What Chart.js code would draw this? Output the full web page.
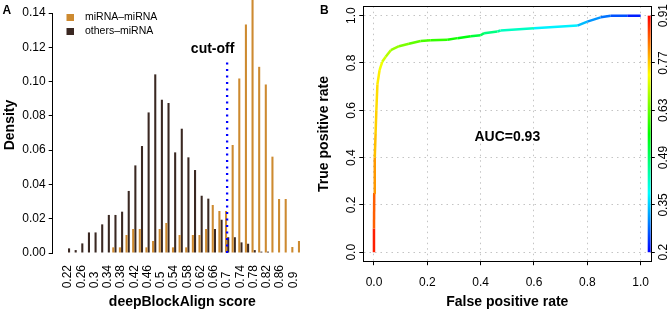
<!DOCTYPE html>
<html>
<head>
<meta charset="utf-8">
<script src="https://cdn.jsdelivr.net/npm/chart.js@4.4.1/dist/chart.umd.min.js"></script>
<style>
  body { margin: 0; background: #fff; width: 670px; height: 309px; overflow: hidden; position: relative; }
  #wrapA { position: absolute; left: 0; top: 0; width: 316px; height: 309px; }
  #wrapB { position: absolute; left: 316px; top: 0; width: 354px; height: 309px; }
</style>
</head>
<body>
<div id="wrapA"><canvas id="histA"></canvas></div>
<div id="wrapB"><canvas id="rocB"></canvas></div>
<script>
// panel A: score histogram (density per 0.02 bin)
var scoreBins = ['0.22','0.24','0.26','0.28','0.3','0.32','0.34','0.36','0.38','0.4','0.42','0.44',
                 '0.46','0.48','0.5','0.52','0.54','0.56','0.58','0.6','0.62','0.64','0.66','0.68',
                 '0.7','0.72','0.74','0.76','0.78','0.8','0.82','0.84','0.86','0.88','0.9','0.92'];
var miRNAmiRNA = [0, 0, 0, 0, 0, 0, 0, 0.0033, 0.0033, 0.0105, 0.014, 0.014,
                  0.0033, 0.007, 0.014, 0.0175, 0.0033, 0.0105, 0.0033, 0.0105, 0.0105, 0.014, 0.028, 0.0245,
                  0.0245, 0.063, 0.1018, 0.1333, 0.15, 0.1086, 0.0983, 0.0562, 0.0315, 0.0315, 0.0035, 0.007];
var othersMiRNA = [0.0027, 0.0017, 0.0056, 0.012, 0.012, 0.0167, 0.0222, 0.0222, 0.0241, 0.0362, 0.0511, 0.0624,
                   0.082, 0.1042, 0.0894, 0.0875, 0.0587, 0.0725, 0.0558, 0.0484, 0.0334, 0.0317, 0.014, 0.0194,
                   0.0092, 0.0092, 0.0062, 0.0054, 0.0017, 0.0008, 0.0008, 0, 0, 0, 0, 0];
var densityTicks = [0, 0.02, 0.04, 0.06, 0.08, 0.10, 0.12, 0.14];
var cutoffScore = 0.7;
var cutoffHeight = 0.112;

// panel B: ROC curve coloured by cutoff
var rocFpr = [0, 0, 0.001, 0.003, 0.006, 0.009, 0.013, 0.021, 0.031, 0.044, 0.063, 0.094, 0.131, 0.175, 0.213,
              0.275, 0.313, 0.363, 0.400, 0.413, 0.463, 0.475, 0.600, 0.763, 0.800, 0.850, 0.888, 0.950, 1.000];
var rocTpr = [0, 0.10, 0.25, 0.40, 0.50, 0.60, 0.71, 0.77, 0.805, 0.826, 0.854, 0.871, 0.881, 0.893, 0.896,
              0.898, 0.905, 0.913, 0.917, 0.926, 0.933, 0.937, 0.947, 0.958, 0.975, 0.993, 1.0, 1.0, 1.0];
var rocCutoff = [0.91, 0.87, 0.82, 0.785, 0.77, 0.76, 0.75, 0.74, 0.71, 0.69, 0.67, 0.65, 0.63, 0.61, 0.60,
                 0.58, 0.56, 0.53, 0.50, 0.48, 0.45, 0.44, 0.40, 0.34, 0.32, 0.29, 0.27, 0.24, 0.20];
var rateTicks = [0, 0.2, 0.4, 0.6, 0.8, 1.0];
var colorKeyLabels = ['0.2', '0.35', '0.49', '0.63', '0.77', '0.91'];
var aucText = 'AUC=0.93';

Chart.defaults.font.family = "'Liberation Sans', Arial, Helvetica, sans-serif";
Chart.defaults.color = '#000';

function barPoints(vals) {
  return scoreBins.map(function(s, i) { return {x: parseFloat(s), y: vals[i]}; });
}

// rev(rainbow(..., end = 4/6)): low cutoff blue, high cutoff red
function cutColor(c) {
  var lo = parseFloat(colorKeyLabels[0]);
  var hi = parseFloat(colorKeyLabels[colorKeyLabels.length - 1]);
  var f = Math.min(1, Math.max(0, (c - lo) / (hi - lo)));
  return 'hsl(' + Math.round((1 - f) * 240) + ',100%,50%)';
}

var histDecor = {
  id: 'histDecor',
  afterDraw: function(chart) {
    var ctx = chart.ctx, area = chart.chartArea;
    var x = chart.scales.x, y = chart.scales.y;
    ctx.save();
    ctx.fillStyle = '#000';
    ctx.font = "bold 12px 'Liberation Sans', Arial, sans-serif";
    ctx.textAlign = 'left';
    ctx.textBaseline = 'alphabetic';
    ctx.fillText('A', 2.5, 13.5);

    // y title
    ctx.save();
    ctx.translate(10, (area.top + area.bottom) / 2 - 8);
    ctx.rotate(-Math.PI / 2);
    ctx.font = "bold 14px 'Liberation Sans', Arial, sans-serif";
    ctx.textAlign = 'center';
    ctx.textBaseline = 'middle';
    ctx.fillText('Density', 0, 0);
    ctx.restore();

    // cut-off label
    ctx.font = "bold 14px 'Liberation Sans', Arial, sans-serif";
    ctx.textAlign = 'center';
    ctx.textBaseline = 'middle';
    ctx.fillText('cut-off', x.getPixelForValue(cutoffScore) - 14.5, y.getPixelForValue(0.119));

    // legend, top-left inside the plot
    ctx.font = "10.5px 'Liberation Sans', Arial, sans-serif";
    ctx.textAlign = 'left';
    chart.data.datasets.slice(0, 2).forEach(function(ds, i) {
      var cy = 17.5 + i * 14;
      ctx.fillStyle = ds.backgroundColor;
      ctx.fillRect(66.5, cy - 3.5, 7.5, 7);
      ctx.fillStyle = '#000';
      ctx.fillText(ds.label, 85, cy);
    });
    ctx.restore();
  }
};

new Chart(document.getElementById('histA'), {
  type: 'bar',
  data: {
    datasets: [
      { label: 'miRNA\u2013miRNA', data: barPoints(miRNAmiRNA), backgroundColor: '#CD8A30',
        categoryPercentage: 0.66, barPercentage: 0.95, clip: false, order: 1 },
      { label: 'others\u2013miRNA', data: barPoints(othersMiRNA), backgroundColor: '#3A2822',
        categoryPercentage: 0.66, barPercentage: 0.95, clip: false, order: 1 },
      { type: 'line', label: 'cut-off',
        data: [{x: cutoffScore, y: 0}, {x: cutoffScore, y: cutoffHeight}],
        borderColor: '#0000FF', borderWidth: 2.3, borderDash: [2, 4.5], pointRadius: 0, order: 0 }
    ]
  },
  options: {
    animation: false,
    responsive: true,
    maintainAspectRatio: false,
    layout: { padding: { top: 13, right: 4, left: 0, bottom: 0 } },
    plugins: { legend: { display: false }, tooltip: { enabled: false } },
    scales: {
      x: {
        type: 'linear', min: 0.174, max: 0.956, offset: false,
        afterBuildTicks: function(s) {
          s.ticks = scoreBins.filter(function(_, i) { return i % 2 === 0; })
                             .map(function(v) { return {value: parseFloat(v)}; });
        },
        ticks: {
          minRotation: 90, maxRotation: 90, autoSkip: false, padding: 4,
          font: { size: 12 }, color: '#000',
          callback: function(v) {
            var s = scoreBins[Math.round((v - 0.22) / 0.02)];
            return s.length < 4 ? s + '\u2007' : s;
          }
        },
        grid: { display: false },
        border: { display: false },
        title: { display: true, text: 'deepBlockAlign score', color: '#000',
                 font: { size: 14, weight: 'bold' }, padding: { top: 0, bottom: -2 } },
        afterFit: function(s) { s.height = 56; }
      },
      y: {
        min: 0, max: 0.14,
        afterBuildTicks: function(s) {
          s.ticks = densityTicks.map(function(v) { return {value: v}; });
        },
        ticks: { padding: 3, font: { size: 12 }, color: '#000',
                 callback: function(v) { return v.toFixed(2); } },
        grid: { drawOnChartArea: false, tickLength: 4, tickColor: '#000' },
        border: { color: '#000' },
        afterFit: function(s) { s.width = 52.7; }
      }
    }
  },
  plugins: [histDecor]
});

var rocDecor = {
  id: 'rocDecor',
  afterDatasetsDraw: function(chart) {
    var ctx = chart.ctx, area = chart.chartArea;
    var x = chart.scales.x, y = chart.scales.y;
    ctx.save();
    // colour key along the right edge
    var top = y.getPixelForValue(1), bottom = y.getPixelForValue(0);
    var g = ctx.createLinearGradient(0, top, 0, bottom);
    for (var i = 0; i <= 12; i++) {
      g.addColorStop(i / 12, 'hsl(' + Math.round(i / 12 * 240) + ',100%,50%)');
    }
    ctx.fillStyle = g;
    ctx.fillRect(area.right - 3.6, top, 3, bottom - top);

    ctx.fillStyle = '#000';
    ctx.font = "bold 14px 'Liberation Sans', Arial, sans-serif";
    ctx.textAlign = 'center';
    ctx.textBaseline = 'middle';
    ctx.fillText(aucText, x.getPixelForValue(0.5), y.getPixelForValue(0.485));

    ctx.font = "bold 12px 'Liberation Sans', Arial, sans-serif";
    ctx.textAlign = 'left';
    ctx.textBaseline = 'alphabetic';
    ctx.fillText('B', 4, 13.5);
    ctx.restore();
  }
};

function rateAxisTicks(s) {
  s.ticks = rateTicks.map(function(v) { return {value: v}; });
}

new Chart(document.getElementById('rocB'), {
  type: 'line',
  data: {
    datasets: [{
      label: 'ROC',
      data: rocFpr.map(function(f, i) { return {x: f, y: rocTpr[i]}; }),
      borderColor: '#00f',
      borderWidth: 2.5,
      borderJoinStyle: 'round',
      pointRadius: 0,
      tension: 0,
      segment: {
        borderColor: function(c) {
          return cutColor((rocCutoff[c.p0DataIndex] + rocCutoff[c.p1DataIndex]) / 2);
        }
      }
    }]
  },
  options: {
    animation: false,
    responsive: true,
    maintainAspectRatio: false,
    layout: { padding: { top: 4, right: 0, left: 0, bottom: 0 } },
    plugins: { legend: { display: false }, tooltip: { enabled: false } },
    scales: {
      x: {
        type: 'linear', position: 'bottom', min: -0.04, max: 1.04,
        afterBuildTicks: rateAxisTicks,
        ticks: { padding: 10, font: { size: 12 }, color: '#000',
                 callback: function(v) { return v.toFixed(1); } },
        grid: { color: '#C4C4C4', tickColor: '#000', tickLength: 3.5 },
        border: { color: '#000', dash: [1.5, 4] },
        title: { display: true, text: 'False positive rate', color: '#000',
                 font: { size: 14, weight: 'bold' }, padding: { top: 0, bottom: -2 } },
        afterFit: function(s) { s.height = 47.3; }
      },
      xTop: {
        type: 'linear', axis: 'x', position: 'top', min: -0.04, max: 1.04,
        ticks: { display: false },
        grid: { display: false },
        border: { color: '#000' },
        afterFit: function(s) { s.height = 0; }
      },
      y: {
        type: 'linear', position: 'left', min: -0.04, max: 1.04,
        afterBuildTicks: rateAxisTicks,
        ticks: { minRotation: 90, maxRotation: 90, crossAlign: 'center', padding: -1,
                 font: { size: 12 }, color: '#000',
                 callback: function(v) { return v.toFixed(1); } },
        grid: { color: '#C4C4C4', tickColor: '#000', tickLength: 4 },
        border: { color: '#000', dash: [1.5, 4] },
        title: { display: true, text: 'True positive rate', color: '#000',
                 font: { size: 14, weight: 'bold' }, padding: { top: 0, bottom: 0 } },
        afterFit: function(s) { s.width = 47.3; }
      },
      cutKey: {
        type: 'linear', axis: 'y', position: 'right', min: -0.04, max: 1.04,
        afterBuildTicks: rateAxisTicks,
        ticks: { minRotation: 90, maxRotation: 90, crossAlign: 'center', padding: -2.5,
                 font: { size: 12 }, color: '#000',
                 callback: function(v) { return colorKeyLabels[Math.round(v * 5)]; } },
        grid: { drawOnChartArea: false, tickColor: '#000', tickLength: 3.5 },
        border: { color: '#000' },
        afterFit: function(s) { s.width = 18.7; }
      }
    }
  },
  plugins: [rocDecor]
});
</script>
</body>
</html>
